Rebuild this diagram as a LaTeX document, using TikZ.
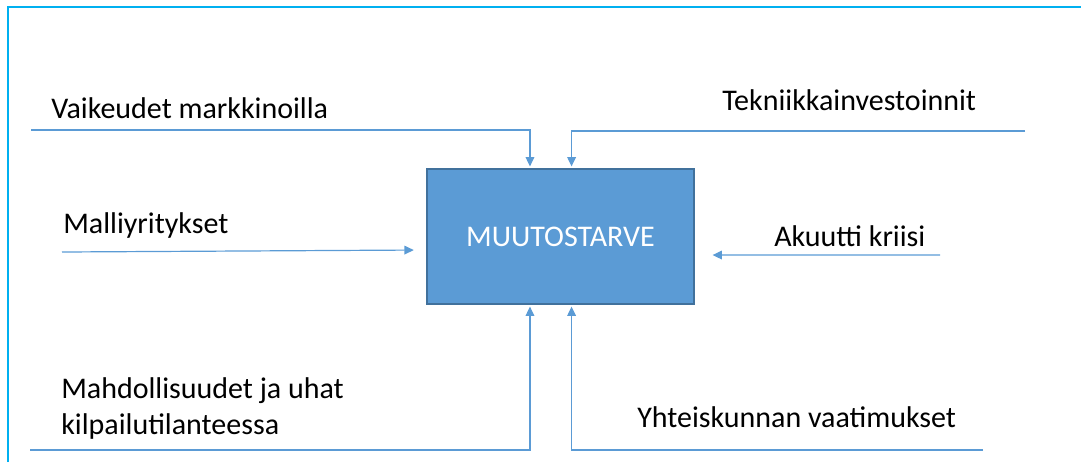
\documentclass[tikz,border=0pt]{standalone}
\usepackage{fontspec}
\setmainfont{Carlito}
\usetikzlibrary{arrows.meta}
\definecolor{boxblue}{HTML}{5B9BD5}
\definecolor{boxedge}{HTML}{41719C}
\definecolor{framecyan}{HTML}{00B0F0}

\begin{document}
\begin{tikzpicture}[x=0.75pt,y=-0.75pt,
		lbl/.style={anchor=base west,inner sep=0pt,align=left,font=\fontsize{22.5}{27}\selectfont},
		flow/.style={draw=boxblue,line width=0.9pt,-{Triangle[length=7pt,width=6.5pt]}}]
		\useasboundingbox (0,0) rectangle (1081,462);
		\draw[framecyan,line width=1.6pt] (8,462) -- (8,7) -- (1081,7);
		
		\node[draw=boxedge,fill=boxblue,line width=1.1pt,minimum width=200pt,minimum height=101pt,
		text=white,font=\fontsize{22.5}{27}\selectfont] (muutos) at (560.5,236.5) {MUUTOSTARVE};
		
		\node[lbl] (vaikeudet) at (51,118) {Vaikeudet markkinoilla};
		\node[lbl] (tekniikka) at (722,110) {Tekniikkainvestoinnit};
		\node[lbl] (malli) at (63,233) {Malliyritykset};
		\node[lbl] (akuutti) at (774,246) {Akuutti kriisi};
		\node[lbl] (mahdollisuudet) at (61,434) {Mahdollisuudet ja uhat\\kilpailutilanteessa};
		\node[lbl] (yhteiskunta) at (637,427) {Yhteiskunnan vaatimukset};
		
		\coordinate (vaik-in) at (31,130);
		\coordinate (tekn-in) at (1025,131);
		\coordinate (malli-in) at (62,252);
		\coordinate (akuu-in) at (940,255);
		\coordinate (mahd-in) at (30,450);
		\coordinate (yhte-in) at (983,450);
		
		\draw[flow,shorten >=1.5pt] (vaik-in) -| ([xshift=-22.9pt]muutos.north);
		\draw[flow,shorten >=1.5pt] (tekn-in) -| ([xshift=8.3pt]muutos.north);
		\draw[flow,shorten >=9.5pt] (malli-in) -- ([yshift=-10.1pt]muutos.west);
		\draw[flow,shorten >=13.5pt] (akuu-in) -- ([yshift=-13.9pt]muutos.east);
		\draw[flow,shorten >=1.5pt] (mahd-in) -| ([xshift=-22.9pt]muutos.south);
		\draw[flow,shorten >=1.5pt] (yhte-in) -| ([xshift=8.3pt]muutos.south);
	\end{tikzpicture}
\end{document}
